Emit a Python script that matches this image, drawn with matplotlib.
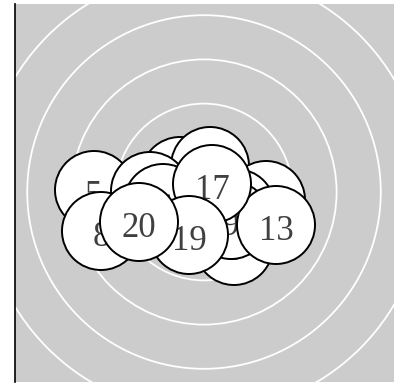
import numpy as np
import matplotlib
matplotlib.use('Agg')
import matplotlib.pyplot as plt
from matplotlib.patches import Circle

# node labels and positions (px offsets from the panel centre), in draw order
labels = ['5', '1', '2', '4', '7', '3', '11', '9', '13', '6', '17', '8', '19', '20']
node_x = [-110, -24, 6, -54, 62, 30, 32, 27, 72, -41, 8, -103, -15, -65]
node_y = [2, 16, 26, 1, -8, -54, -16, -28, -33, -11, 8, -39, -43, -30]
node_r = 39

ring_radii = [44.2, 88.4, 132.6, 176.8, 221.0]

fig = plt.figure(figsize=(3.97, 3.83), dpi=100)
ax = fig.add_axes([15 / 397, 1 / 383, 379 / 397, 378 / 383])
ax.set_facecolor('#cccccc')
ax.set_xlim(-189, 190)
ax.set_ylim(-190, 188)
ax.set_xticks([])
ax.set_yticks([])
for s in ['top', 'right', 'bottom']:
    ax.spines[s].set_visible(False)
ax.spines['left'].set_color('black')
ax.spines['left'].set_linewidth(1.2)

for r in ring_radii:
    ax.add_patch(Circle((0, 0), r, fill=False, edgecolor='white', lw=1.3, zorder=1))

# digits sit a little below the circle centre, so place them by baseline
for i, (lab, x, y) in enumerate(zip(labels, node_x, node_y)):
    z = 2 + i
    ax.add_patch(Circle((x, y), node_r, facecolor='white', edgecolor='black', lw=1.4, zorder=z))
    ax.text(x, y - 14.5, lab, ha='center', va='baseline', fontsize=25, color='#404040',
            family='Liberation Serif', zorder=z + 0.5)

fig.savefig('out.png', dpi=100)
